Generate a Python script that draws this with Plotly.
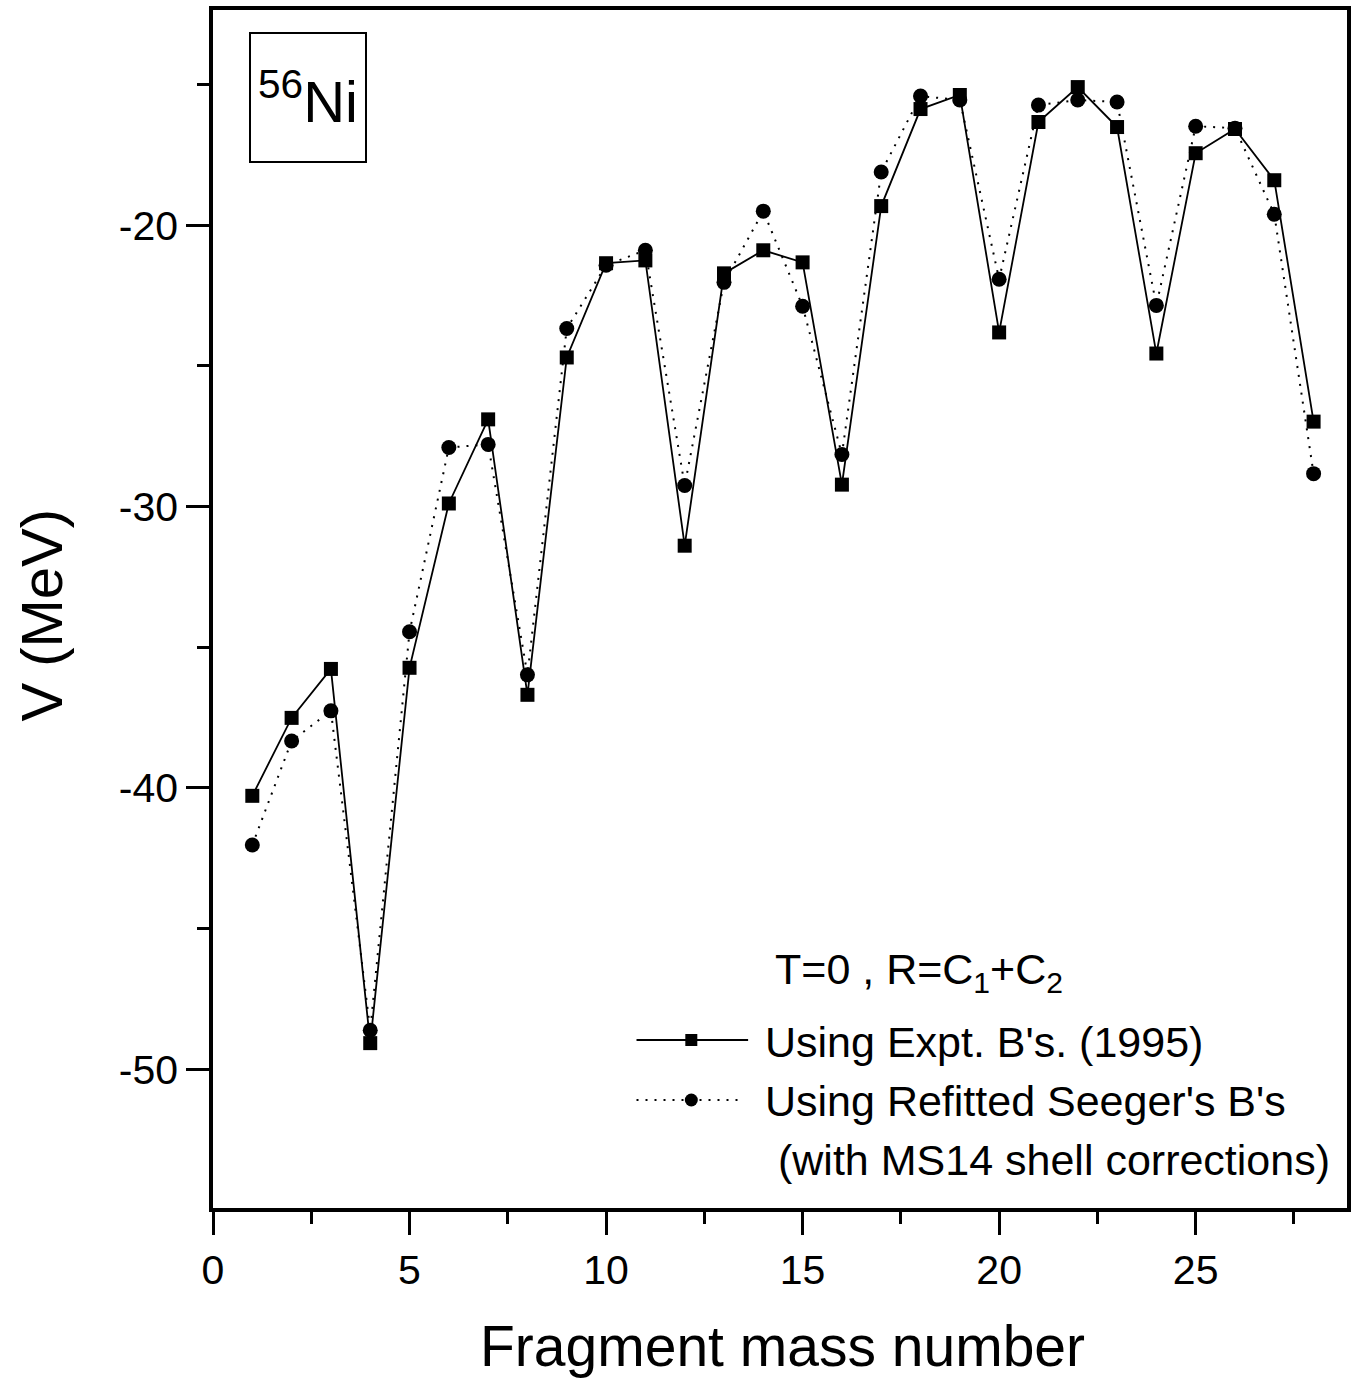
import plotly.graph_objects as go

# ---- data ----
fragment_mass = list(range(1, 29))
v_expt = [-40.28, -37.51, -35.77, -49.07, -35.73, -29.89, -26.90, -36.69, -24.70, -21.35,
          -21.25, -31.39, -21.71, -20.89, -21.32, -29.22, -19.32, -15.87, -15.37, -23.81,
          -16.33, -15.09, -16.51, -24.56, -17.44, -16.58, -18.40, -26.98]
v_seeger = [-42.03, -38.33, -37.26, -48.61, -34.45, -27.90, -27.79, -35.98, -23.67, -21.42,
            -20.89, -29.25, -22.03, -19.50, -22.88, -28.15, -18.11, -15.41, -15.55, -21.92,
            -15.73, -15.55, -15.62, -22.85, -16.48, -16.55, -19.61, -28.83]

x_ticks = [0, 5, 10, 15, 20, 25]
y_ticks = [-20, -30, -40, -50]

FONT = "Liberation Sans, Arial, sans-serif"

fig = go.Figure()
fig.add_trace(go.Scatter(
    x=fragment_mass, y=v_seeger, mode="lines+markers",
    line=dict(color="black", width=2, dash="2px,7px"),
    marker=dict(symbol="circle", size=15, color="black"),
    name="Using Refitted Seeger's B's", showlegend=False))
fig.add_trace(go.Scatter(
    x=fragment_mass, y=v_expt, mode="lines+markers",
    line=dict(color="black", width=1.8),
    marker=dict(symbol="square", size=14, color="black"),
    name="Using Expt. B's. (1995)", showlegend=False))

W, H = 1357, 1381
L, R, T, B = 213, 6, 10, 173
pw, ph = W - L - R, H - T - B

def px(x):
    return (x - L) / pw

def py(y):
    return (H - B - y) / ph

axis_common = dict(
    showline=True, linecolor="black", linewidth=3.5, mirror=True,
    ticks="outside", tickcolor="black", tickwidth=2.5, ticklen=23,
    showgrid=False, zeroline=False,
    tickfont=dict(family=FONT, size=41, color="black"),
)

fig.update_xaxes(range=[0, 28.85], tickvals=x_ticks, ticktext=[str(v) for v in x_ticks],
                 minor=dict(dtick=2.5, tick0=0, ticks="outside", ticklen=12, tickwidth=2.5,
                            tickcolor="black", showgrid=False),
                 **axis_common)
fig.update_yaxes(range=[-54.93, -12.35], tickvals=y_ticks, ticktext=[str(v) for v in y_ticks],
                 minor=dict(dtick=5, tick0=0, ticks="outside", ticklen=12, tickwidth=2.5,
                            tickcolor="black", showgrid=False),
                 **axis_common)

annotations = [
    dict(text="Fragment mass number", x=px(785), y=py(1346), xref="paper", yref="paper",
         showarrow=False, xanchor="center", yanchor="middle",
         font=dict(family=FONT, size=57, color="black")),
    dict(text="V (MeV)", x=px(40), y=py(615), xref="paper", yref="paper",
         showarrow=False, xanchor="center", yanchor="middle", textangle=-90,
         font=dict(family=FONT, size=58, color="black")),
    dict(text="<sup>56</sup>Ni", x=px(308), y=py(97), xref="paper", yref="paper",
         showarrow=False, xanchor="center", yanchor="middle",
         width=114, height=127, borderwidth=2, bordercolor="black", borderpad=0,
         font=dict(family=FONT, size=58, color="black")),
    dict(text="T=0 , R=C<sub>1</sub>+C<sub>2</sub>", x=px(775), y=py(972), xref="paper", yref="paper",
         showarrow=False, xanchor="left", yanchor="middle",
         font=dict(family=FONT, size=43, color="black")),
    dict(text="Using Expt. B's. (1995)", x=px(765), y=py(1042), xref="paper", yref="paper",
         showarrow=False, xanchor="left", yanchor="middle",
         font=dict(family=FONT, size=43, color="black")),
    dict(text="Using Refitted Seeger's B's", x=px(765), y=py(1101), xref="paper", yref="paper",
         showarrow=False, xanchor="left", yanchor="middle",
         font=dict(family=FONT, size=43, color="black")),
    dict(text="(with MS14 shell corrections)", x=px(778), y=py(1160), xref="paper", yref="paper",
         showarrow=False, xanchor="left", yanchor="middle",
         font=dict(family=FONT, size=43, color="black")),
]

shapes = [
    dict(type="line", xref="paper", yref="paper", x0=px(638), x1=px(750), y0=py(1040), y1=py(1040),
         line=dict(color="black", width=1.8)),
    dict(type="rect", xref="paper", yref="paper", xsizemode="pixel", ysizemode="pixel",
         xanchor=px(693), yanchor=py(1040), x0=-6, x1=6, y0=-6, y1=6,
         fillcolor="black", line=dict(width=0)),
    dict(type="line", xref="paper", yref="paper", x0=px(638), x1=px(742), y0=py(1100), y1=py(1100),
         line=dict(color="black", width=2, dash="2px,7px")),
    dict(type="circle", xref="paper", yref="paper", xsizemode="pixel", ysizemode="pixel",
         xanchor=px(693), yanchor=py(1100), x0=-6.5, x1=6.5, y0=-6.5, y1=6.5,
         fillcolor="black", line=dict(width=0)),
]

fig.update_layout(
    width=W, height=H,
    margin=dict(l=L, r=R, t=T, b=B),
    paper_bgcolor="white", plot_bgcolor="white",
    showlegend=False,
    annotations=annotations, shapes=shapes,
    font=dict(family=FONT, color="black"),
)

fig.write_html("out.html",
               config={"displayModeBar": False},
               post_script="document.body.style.margin='0px';document.body.style.padding='0px';"
                           "document.body.style.overflow='hidden';")
